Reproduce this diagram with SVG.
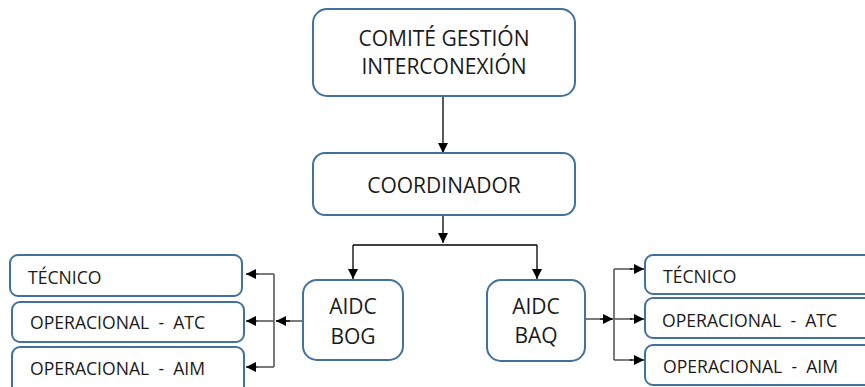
<svg xmlns="http://www.w3.org/2000/svg" width="865" height="387" viewBox="0 0 865 387">
  <style>
    .box { fill: #ffffff; stroke: #41719c; stroke-width: 2; }
    .lbl { font-family: "Open Sans", "Noto Sans", sans-serif; fill: #1a1a1a; white-space: pre; }
    .big { font-size: 21px; text-anchor: middle; }
    .small { font-size: 17.6px; }
    .wire { fill: none; stroke: #000000; stroke-width: 1.3; }
    .grey { fill: none; stroke: #595959; stroke-width: 1.6; }
  </style>
  <defs>
    <marker id="arrow" viewBox="0 0 10 10" refX="10" refY="5" markerWidth="10" markerHeight="10" markerUnits="userSpaceOnUse" orient="auto">
      <path d="M0,0 L10,5 L0,10 z" fill="#000000"/>
    </marker>
  </defs>

  <rect width="865" height="387" fill="#ffffff"/>

  <!-- connectors -->
  <g id="connectors">
    <path class="wire" d="M443,96 V153" marker-end="url(#arrow)"/>
    <path class="wire" d="M443,215 V243" marker-end="url(#arrow)"/>
    <path class="wire" d="M353,245 H537"/>
    <path class="wire" d="M353,245 V279" marker-end="url(#arrow)"/>
    <path class="wire" d="M537,245 V279" marker-end="url(#arrow)"/>

    <!-- AIDC BOG branch -->
    <path class="grey" d="M303,321 H276"/>
    <path class="wire" d="M290,321 H276" marker-end="url(#arrow)"/>
    <path class="grey" d="M274,274 V367"/>
    <path class="grey" d="M274,274 H258"/>
    <path class="grey" d="M274,321 H258"/>
    <path class="grey" d="M274,367 H258"/>
    <path class="wire" d="M258,274 H246" marker-end="url(#arrow)"/>
    <path class="wire" d="M258,321 H246" marker-end="url(#arrow)"/>
    <path class="wire" d="M258,367 H246" marker-end="url(#arrow)"/>

    <!-- AIDC BAQ branch -->
    <path class="grey" d="M585,319 H612"/>
    <path class="wire" d="M600,319 H613" marker-end="url(#arrow)"/>
    <path class="grey" d="M614,269 V360"/>
    <path class="grey" d="M614,269 H632"/>
    <path class="grey" d="M614,319 H632"/>
    <path class="grey" d="M614,360 H632"/>
    <path class="wire" d="M630,269 H644" marker-end="url(#arrow)"/>
    <path class="wire" d="M630,319 H644" marker-end="url(#arrow)"/>
    <path class="wire" d="M630,360 H644" marker-end="url(#arrow)"/>
  </g>

  <g id="comite">
    <rect class="box" x="313" y="9" width="262" height="87" rx="14"/>
    <text class="lbl big" x="444" y="46">COMITÉ GESTIÓN</text>
    <text class="lbl big" x="444" y="74">INTERCONEXIÓN</text>
  </g>

  <g id="coordinador">
    <rect class="box" x="313" y="153" width="262" height="62" rx="12"/>
    <text class="lbl big" x="444" y="193">COORDINADOR</text>
  </g>

  <g id="aidc-bog">
    <rect class="box" x="303" y="280" width="100" height="80" rx="14"/>
    <text class="lbl big" x="353" y="314">AIDC</text>
    <text class="lbl big" x="353" y="344">BOG</text>
  </g>

  <g id="aidc-baq">
    <rect class="box" x="487" y="280" width="98" height="81" rx="14"/>
    <text class="lbl big" x="536" y="314">AIDC</text>
    <text class="lbl big" x="536" y="343">BAQ</text>
  </g>

  <g id="bog-tecnico">
    <rect class="box" x="10" y="255" width="232" height="41" rx="8"/>
    <text class="lbl small" x="28" y="284">TÉCNICO</text>
  </g>
  <g id="bog-atc">
    <rect class="box" x="12" y="302" width="232" height="40" rx="8"/>
    <text class="lbl small" x="30" y="329">OPERACIONAL  -  ATC</text>
  </g>
  <g id="bog-aim">
    <rect class="box" x="12" y="347" width="232" height="50" rx="8"/>
    <text class="lbl small" x="30" y="375">OPERACIONAL  -  AIM</text>
  </g>

  <g id="baq-tecnico">
    <rect class="box" x="645" y="255" width="240" height="39" rx="8"/>
    <text class="lbl small" x="663" y="283">TÉCNICO</text>
  </g>
  <g id="baq-atc">
    <rect class="box" x="645" y="298" width="240" height="40" rx="8"/>
    <text class="lbl small" x="662" y="327">OPERACIONAL  -  ATC</text>
  </g>
  <g id="baq-aim">
    <rect class="box" x="645" y="345" width="240" height="40" rx="8"/>
    <text class="lbl small" x="663" y="373">OPERACIONAL  -  AIM</text>
  </g>
</svg>
